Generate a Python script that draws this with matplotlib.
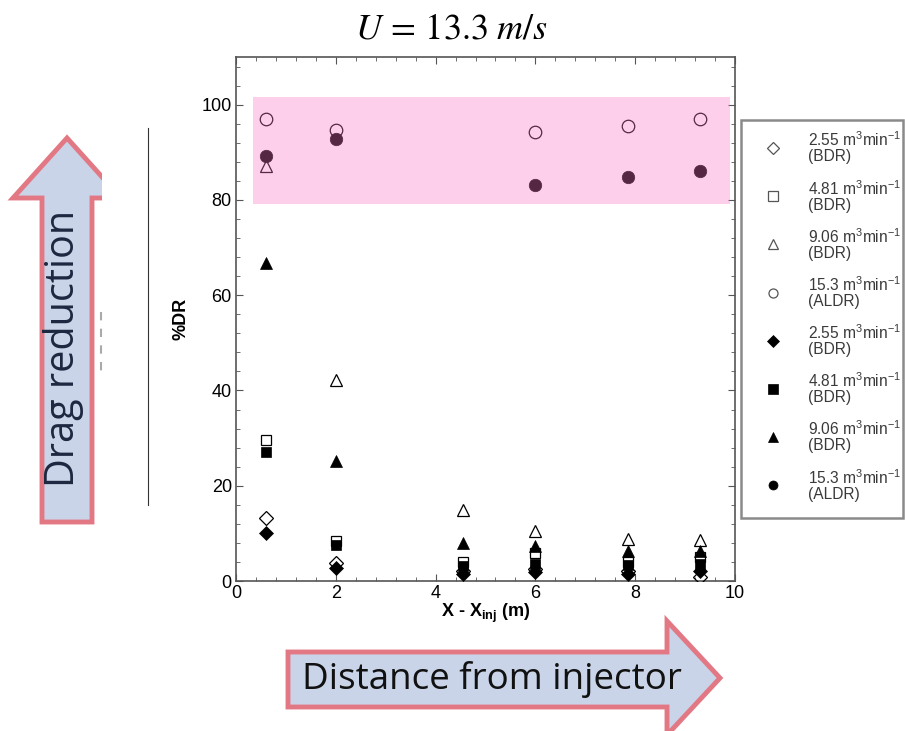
import matplotlib
matplotlib.use("Agg")
import matplotlib.pyplot as plt
from matplotlib.patches import Polygon, Rectangle
from matplotlib.ticker import MultipleLocator
from matplotlib.lines import Line2D

# ---------------- data ----------------
x_pos = [0.6, 2.0, 4.55, 6.0, 7.85, 9.3]

open_diamond  = [13.3, 3.8, 2.0, 2.5, 2.0, 0.9]   # 2.55 (BDR)
open_square   = [29.5, 8.5, 4.0, 5.8, 4.0, 5.1]   # 4.81 (BDR)
open_triangle = [87.2, 42.1, 14.8, 10.6, 8.9, 8.7]  # 9.06 (BDR)
open_circle_x = [0.6, 2.0, 6.0, 7.85, 9.3]
open_circle   = [96.9, 94.7, 94.3, 95.6, 96.9]    # 15.3 (ALDR)

fill_diamond  = [10.0, 2.8, 1.5, 1.8, 1.5, 2.0]
fill_square   = [27.1, 7.5, 3.1, 3.6, 3.3, 3.5]
fill_triangle = [66.7, 25.2, 8.0, 7.3, 6.3, 6.4]
fill_circle_x = [0.6, 2.0, 6.0, 7.85, 9.3]
fill_circle   = [89.2, 92.7, 83.1, 84.9, 86.1]

labels = [
    "2.55 m$^3$min$^{-1}$\n(BDR)",
    "4.81 m$^3$min$^{-1}$\n(BDR)",
    "9.06 m$^3$min$^{-1}$\n(BDR)",
    "15.3 m$^3$min$^{-1}$\n(ALDR)",
    "2.55 m$^3$min$^{-1}$\n(BDR)",
    "4.81 m$^3$min$^{-1}$\n(BDR)",
    "9.06 m$^3$min$^{-1}$\n(BDR)",
    "15.3 m$^3$min$^{-1}$\n(ALDR)",
]

band_y = (79.2, 101.5)
band_x = (0.34, 9.9)

W, H = 905, 731
plt.rcParams['font.family'] = ['Liberation Sans', 'DejaVu Sans']
plt.rcParams['mathtext.fontset'] = 'custom'
plt.rcParams['mathtext.rm'] = 'Liberation Sans'
plt.rcParams['mathtext.it'] = 'Liberation Sans:italic'
plt.rcParams['mathtext.bf'] = 'Liberation Sans:bold'
fig = plt.figure(figsize=(W / 100, H / 100), dpi=100)

def fx(px):
    return px / W

def fy(py):
    return 1 - py / H

# axes
ax = fig.add_axes([fx(236), fy(581), (735 - 236) / W, (581 - 57) / H])
ax.set_xlim(0, 10)
ax.set_ylim(0, 110)

series = [
    (x_pos, open_diamond, 'D', 'none', 6.8),
    (x_pos, open_square, 's', 'none', 7.5),
    (x_pos, open_triangle, '^', 'none', 9),
    (open_circle_x, open_circle, 'o', 'none', 9),
    (x_pos, fill_diamond, 'D', 'black', 6.8),
    (x_pos, fill_square, 's', 'black', 7.5),
    (x_pos, fill_triangle, '^', 'black', 9),
    (fill_circle_x, fill_circle, 'o', 'black', 9),
]
handles = []
for (xs, ys, m, fc, s), lab in zip(series, labels):
    h, = ax.plot(xs, ys, linestyle='none', marker=m, markersize=s,
                 markerfacecolor=fc, markeredgecolor='black',
                 markeredgewidth=0.9 if fc == 'none' else 0.5,
                 label=lab, zorder=3)
    handles.append(h)

# pink band overlay (tints the points beneath)
ax.add_patch(Rectangle((band_x[0], band_y[0]), band_x[1] - band_x[0],
                       band_y[1] - band_y[0], facecolor=(0.98, 0.46, 0.77),
                       alpha=0.34, edgecolor='none', zorder=4))

ax.xaxis.set_major_locator(MultipleLocator(2))
ax.xaxis.set_minor_locator(MultipleLocator(0.4))
ax.yaxis.set_minor_locator(MultipleLocator(4))
ax.set_yticks([0, 20, 40, 60, 80, 100])
ax.tick_params(which='both', direction='in', top=True, right=True,
               labelsize=13, color='#555555', pad=3)
ax.tick_params(which='major', length=5)
ax.tick_params(which='minor', length=3)
for sp in ax.spines.values():
    sp.set_color('#555555')
    sp.set_linewidth(1.2)

ax.set_xlabel("X - X$_{\\mathbf{inj}}$ (m)", fontsize=13, fontweight='bold', labelpad=0)
ax.set_ylabel("%DR", fontsize=13, fontweight='bold', labelpad=9)

# title
fig.text(fx(452), fy(29), r"$U\,=\,\mathrm{13.3}\ m/s$", ha='center', va='center',
         fontsize=26, math_fontfamily='stix')

# legend (frameless, with a separate box)
leg = fig.legend(handles=handles, loc='upper left',
                 bbox_to_anchor=(fx(743), fy(126)), bbox_transform=fig.transFigure,
                 fontsize=11.2, frameon=False,
                 labelspacing=0.93, handletextpad=0.6, borderpad=0.3,
                 handlelength=3.3, borderaxespad=0)
for t in leg.get_texts():
    t.set_color('#3a3a3a')
    t.set_linespacing(1.0)
for lh in leg.legend_handles:
    lh.set_markersize(6.5)
    if lh.get_markerfacecolor() == 'none':
        lh.set_markeredgecolor('#555555')
fig.patches.append(Rectangle((fx(741), fy(518)), fx(903) - fx(741), fy(120) - fy(518),
                             transform=fig.transFigure, facecolor='none',
                             edgecolor='#8a8a8a', linewidth=1.8))

# decorative arrows
arrow_fc = (0.79, 0.83, 0.91)
arrow_ec = (0.89, 0.47, 0.52)
up_pts = [(42, 522), (42, 198), (13, 198), (67, 138), (121, 198), (92, 198), (92, 522)]
up = Polygon([(fx(a), fy(b)) for a, b in up_pts], closed=True, transform=fig.transFigure,
             facecolor=arrow_fc, edgecolor=arrow_ec, linewidth=3.5, zorder=1)
fig.patches.append(up)
clip = Rectangle((0, 0), fx(102), 1, transform=fig.transFigure)
up.set_clip_path(clip)
fig.text(fx(64), fy(348), "Drag reduction", rotation=90, ha='center', va='center',
         fontsize=28.5, color='#1c2740', family=['Open Sans', 'DejaVu Sans'], zorder=3)

rt_pts = [(288, 652), (667, 652), (667, 621), (720, 678), (667, 735), (667, 707), (288, 707)]
rt = Polygon([(fx(a), fy(b)) for a, b in rt_pts], closed=True, transform=fig.transFigure,
             facecolor=arrow_fc, edgecolor=arrow_ec, linewidth=3.5, zorder=1)
fig.patches.append(rt)
fig.text(fx(492), fy(680), "Distance from injector", ha='center', va='center',
         fontsize=26.5, color='#111111', family=['Open Sans', 'DejaVu Sans'], zorder=3)

# thin vertical line and faint dashes
fig.add_artist(Line2D([fx(148), fx(148)], [fy(128), fy(505)], color='#333333', linewidth=0.8))
fig.add_artist(Line2D([fx(101), fx(101)], [fy(312), fy(372)], color='#aaaaaa',
                      linewidth=1.5, linestyle=(0, (4, 4))))

fig.savefig("out.png", dpi=100)
